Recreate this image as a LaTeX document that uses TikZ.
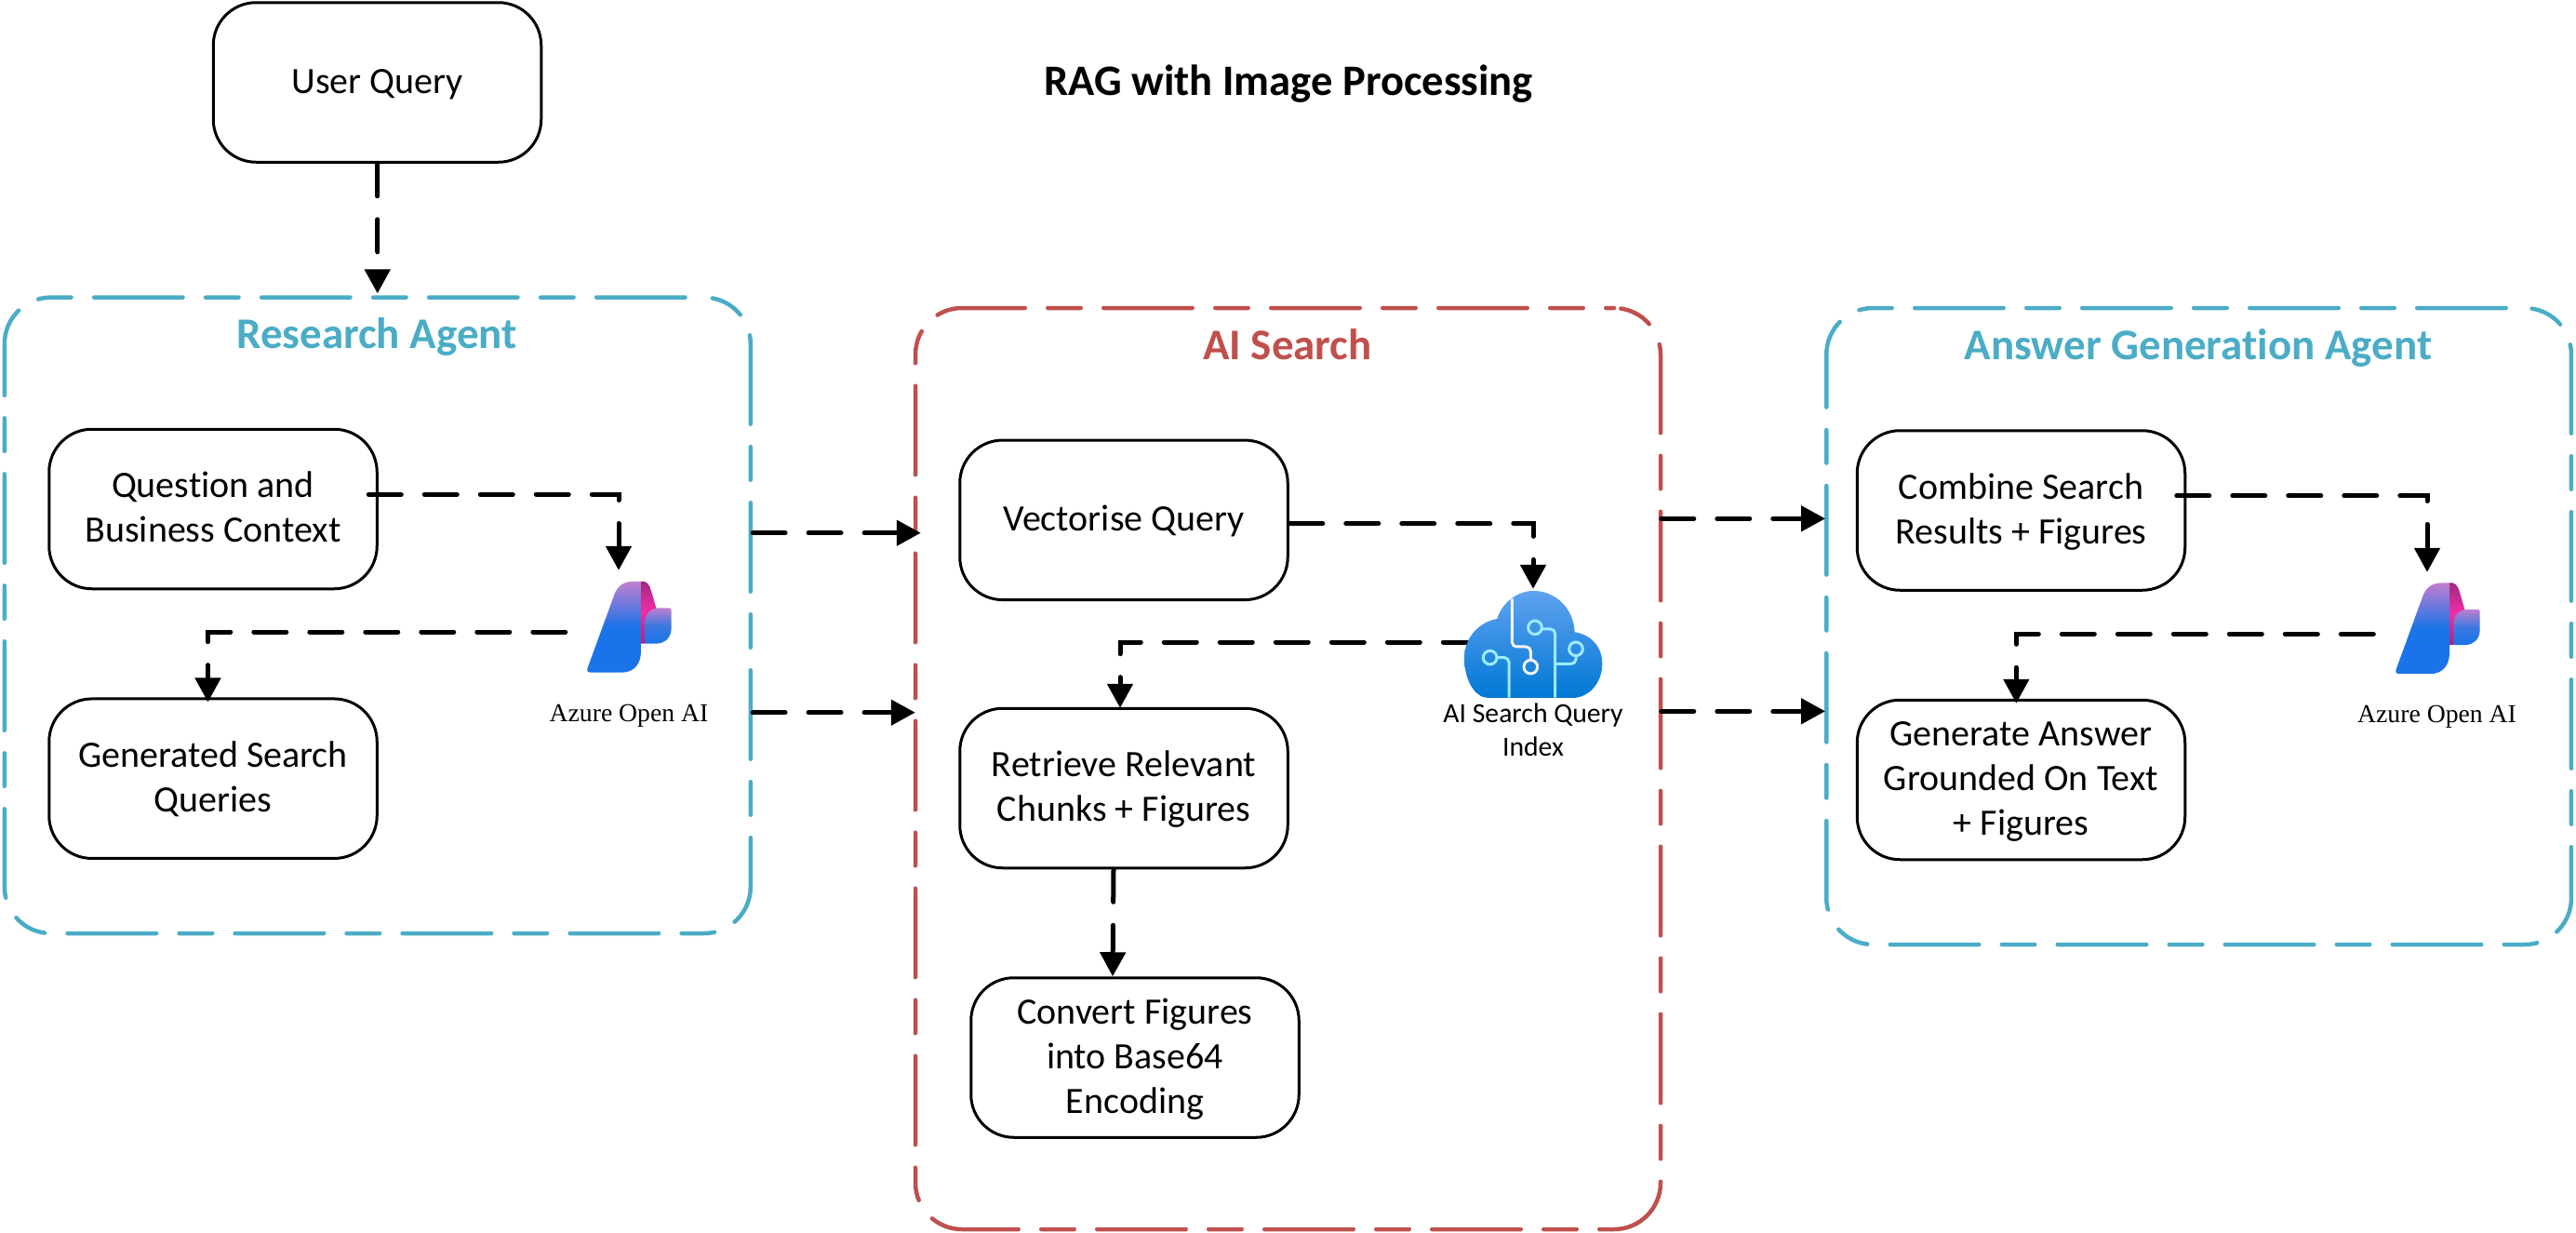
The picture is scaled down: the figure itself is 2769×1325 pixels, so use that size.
\documentclass[tikz,border=0pt]{standalone}
\usepackage{fontspec}
\setmainfont[Ligatures=NoCommon]{Carlito}
\newfontfamily\iconlabel{Liberation Serif}
\usetikzlibrary{arrows.meta,calc}
\definecolor{panelcyan}{HTML}{4BACC6}
\definecolor{panelred}{HTML}{C0504D}
\newcommand{\topfix}{\rule{0pt}{38pt}}
\newcommand{\topfixtwo}{\rule{0pt}{86pt}}
\newcommand{\topfixthree}{\rule{0pt}{134pt}}
\newcommand{\botfix}{\rule[-14.5pt]{0pt}{14.5pt}}
\tikzset{
  x=1pt,y=-1pt,
  proc/.style={draw=black,line width=3pt,rounded corners=46pt,fill=white,minimum width=352.5pt,minimum height=171.5pt,align=center,inner sep=0pt,font=\fontsize{40}{48}\selectfont,execute at begin node=\topfix,execute at end node=\botfix},
  twolines/.style={execute at begin node=\topfixtwo},
  threelines/.style={execute at begin node=\topfixthree},
  panel/.style={draw=#1,line width=4.5pt,rounded corners=50pt,inner sep=0pt,line cap=round,dash pattern=on 95.5pt off 24.5pt on 35.5pt off 24.5pt},
  flow/.style={draw=black,line width=5pt,line cap=round,dash pattern=on 35pt off 25pt,-{Triangle[width=27pt,length=26pt]}},
  heading/.style={font=\fontsize{47}{50}\selectfont\bfseries,text=#1,inner sep=0pt,anchor=base},
  hint/.style={minimum width=#1,minimum height=100pt,inner sep=0pt},
  oailabel/.style={font=\iconlabel\fontsize{27.7}{30}\selectfont,inner sep=0pt,anchor=base},
  cloudlabel/.style={font=\fontsize{29.7}{36}\selectfont,align=center,inner sep=0pt}
}
\definecolor{oaia}{HTML}{A0267F}
\definecolor{oaip}{HTML}{EE2FA5}
\definecolor{oaib}{HTML}{B0207F}
\definecolor{oaiv}{HTML}{C07FD0}
\definecolor{oaiu}{HTML}{1A73E8}
\definecolor{oaiw}{HTML}{3B78E0}
\definecolor{cloudtop}{HTML}{60A2F0}
\definecolor{cloudbot}{HTML}{0078D4}
\definecolor{circuit}{HTML}{9CEBFF}
\newcommand{\oaimark}[2]{%
  \begin{scope}[shift={(#1,#2)},x=0.3333pt,y=-0.3333pt]
    \shade[shading=axis,top color=oaia,bottom color=oaib,middle color=oaip] (385,195) .. controls (405,190) and (415,205) .. (420,225) -- (445,310) -- (400,395) -- (385,395) -- cycle;
    \shade[shading=axis,shading angle=35,top color=oaiv,bottom color=oaiu,middle color=oaiu] (300,240) .. controls (310,210) and (330,195) .. (360,195) -- (387,195) -- (387,420) .. controls (387,460) and (365,488) .. (325,488) -- (222,488) .. controls (215,488) and (212,482) .. (214,476) -- cycle;
    \shade[shading=axis,top color=oaiv,bottom color=oaiu,middle color=oaiw] (400,325) .. controls (400,300) and (420,280) .. (445,280) -- (478,280) .. controls (483,280) and (485,283) .. (485,288) -- (485,345) .. controls (485,375) and (465,395) .. (435,395) -- (400,395) -- cycle;
  \end{scope}}
\begin{document}
\begin{tikzpicture}
\useasboundingbox (0,0) rectangle (2769,1325);
% panels
\node[panel=panelcyan,dash phase=159.75pt,minimum width=802pt,minimum height=683.4pt] (research) at (405.8,661.3) {};
\node[panel=panelred,dash phase=86.75pt,minimum width=801pt,minimum height=990pt] (search) at (1384.5,826) {};
\node[panel=panelcyan,dash phase=159.75pt,minimum width=800.7pt,minimum height=684pt] (answer) at (2363.6,673) {};
% titles
\node[font=\fontsize{46.6}{50}\selectfont\bfseries,inner sep=0pt,anchor=base] (title) at (1385,102.7) {RAG with Image Processing};
\node[heading=panelcyan] (t1) at (405,374.5) {Research Agent};
\node[heading=panelred] (t2) at (1384,386) {AI Search};
\node[heading=panelcyan] (t3) at (2363,386) {Answer Generation Agent};
% boxes
\node[proc] (user) at (405.5,88.5) {User Query};
\node[proc,twolines] (question) at (229,547) {Question and\\Business Context};
\node[proc,twolines] (generated) at (229,836.7) {Generated Search\\Queries};
\node[proc] (vector) at (1208,558.8) {Vectorise Query};
\node[proc,twolines] (retrieve) at (1208,847) {Retrieve Relevant\\Chunks + Figures};
\node[proc,threelines] (convert) at (1220,1136.5) {Convert Figures\\into Base64\\Encoding};
\node[proc,twolines] (combine) at (2172.5,548.5) {Combine Search\\Results + Figures};
\node[proc,threelines] (gen) at (2172.5,838) {Generate Answer\\Grounded On Text\\+ Figures};
% icon anchors
\node[hint=92pt] (oai1) at (676,674) {};
\node[hint=92pt] (oai2) at (2620,674) {};
\node[hint=148pt] (cloud) at (1648,692.5) {};
% connectors
\draw[flow] (user.south) -- ([yshift=2pt]research.north);
\draw[flow] ([xshift=-10.5pt,yshift=15.8pt]question.east) -| ([xshift=-11pt,yshift=11pt]oai1.north);
\draw[flow] ([xshift=-22pt,yshift=-5pt]oai1.west) -| ([xshift=-5.5pt,yshift=-5pt]generated.north);
\draw[flow] ([yshift=88.6pt]research.east) -- ([xshift=8pt,yshift=253.3pt]search.west);
\draw[flow] ([yshift=-104.4pt]research.east) -- ([xshift=2pt,yshift=60.3pt]search.west);
\draw[flow] ([xshift=-1.5pt,yshift=268.7pt]search.east) -- ([xshift=1pt,yshift=115.7pt]answer.west);
\draw[flow] ([xshift=-1.5pt,yshift=61.7pt]search.east) -- ([xshift=1pt,yshift=-91.3pt]answer.west);
\draw[flow] ([xshift=1pt,yshift=-3.8pt]vector.east) -| ([yshift=9.5pt]cloud.north);
\draw[flow] ([xshift=12.5pt,yshift=2.5pt]cloud.west) -| ([xshift=-4pt,yshift=-1pt]retrieve.north);
\draw[flow] ([xshift=-11pt]retrieve.south) -- ([xshift=-24pt]convert.north);
\draw[flow] ([xshift=-10.5pt,yshift=15.8pt]combine.east) -| ([xshift=-11pt,yshift=9pt]oai2.north);
\draw[flow] ([xshift=-22.5pt,yshift=-7.3pt]oai2.west) -| ([xshift=-5.2pt,yshift=-5pt]gen.north);
% icons
\oaimark{560}{560}
\oaimark{2504}{561.5}
\begin{scope}[shift={(1520,600)},x=0.3333pt,y=-0.3333pt]
  \shade[top color=cloudtop,bottom color=cloudbot] (240,450) .. controls (195,450) and (162,390) .. (162,322) .. controls (162,255) and (210,205) .. (268,195) .. controls (285,140) and (335,105) .. (385,105) .. controls (460,105) and (515,165) .. (518,238) .. controls (570,245) and (607,285) .. (607,340) .. controls (607,400) and (565,450) .. (510,450) -- cycle;
  \draw[white!95!black,line width=3pt,rounded corners=5pt] (316,130) -- (316,285) -- (376,285) -- (376,328);
  \draw[white!95!black,line width=3pt] (376,350) circle (22);
  \draw[circuit,line width=3pt,rounded corners=5pt] (412,228) -- (455,228) -- (455,449);
  \draw[circuit,line width=3pt] (390,223) circle (22);
  \draw[circuit,line width=3pt,rounded corners=5pt] (455,340) -- (522,340) -- (522,314);
  \draw[circuit,line width=3pt] (522,292) circle (22);
  \draw[circuit,line width=3pt,rounded corners=5pt] (268,320) -- (306,320) -- (306,449);
  \draw[circuit,line width=3pt] (245,320) circle (22);
\end{scope}
% icon labels
\node[oailabel] (oai1t) at (676,775) {Azure Open AI};
\node[oailabel] (oai2t) at (2619.5,776.7) {Azure Open AI};
\node[cloudlabel] (cloudt) at (1648,784.5) {AI Search Query\\Index};
\end{tikzpicture}
\end{document}
